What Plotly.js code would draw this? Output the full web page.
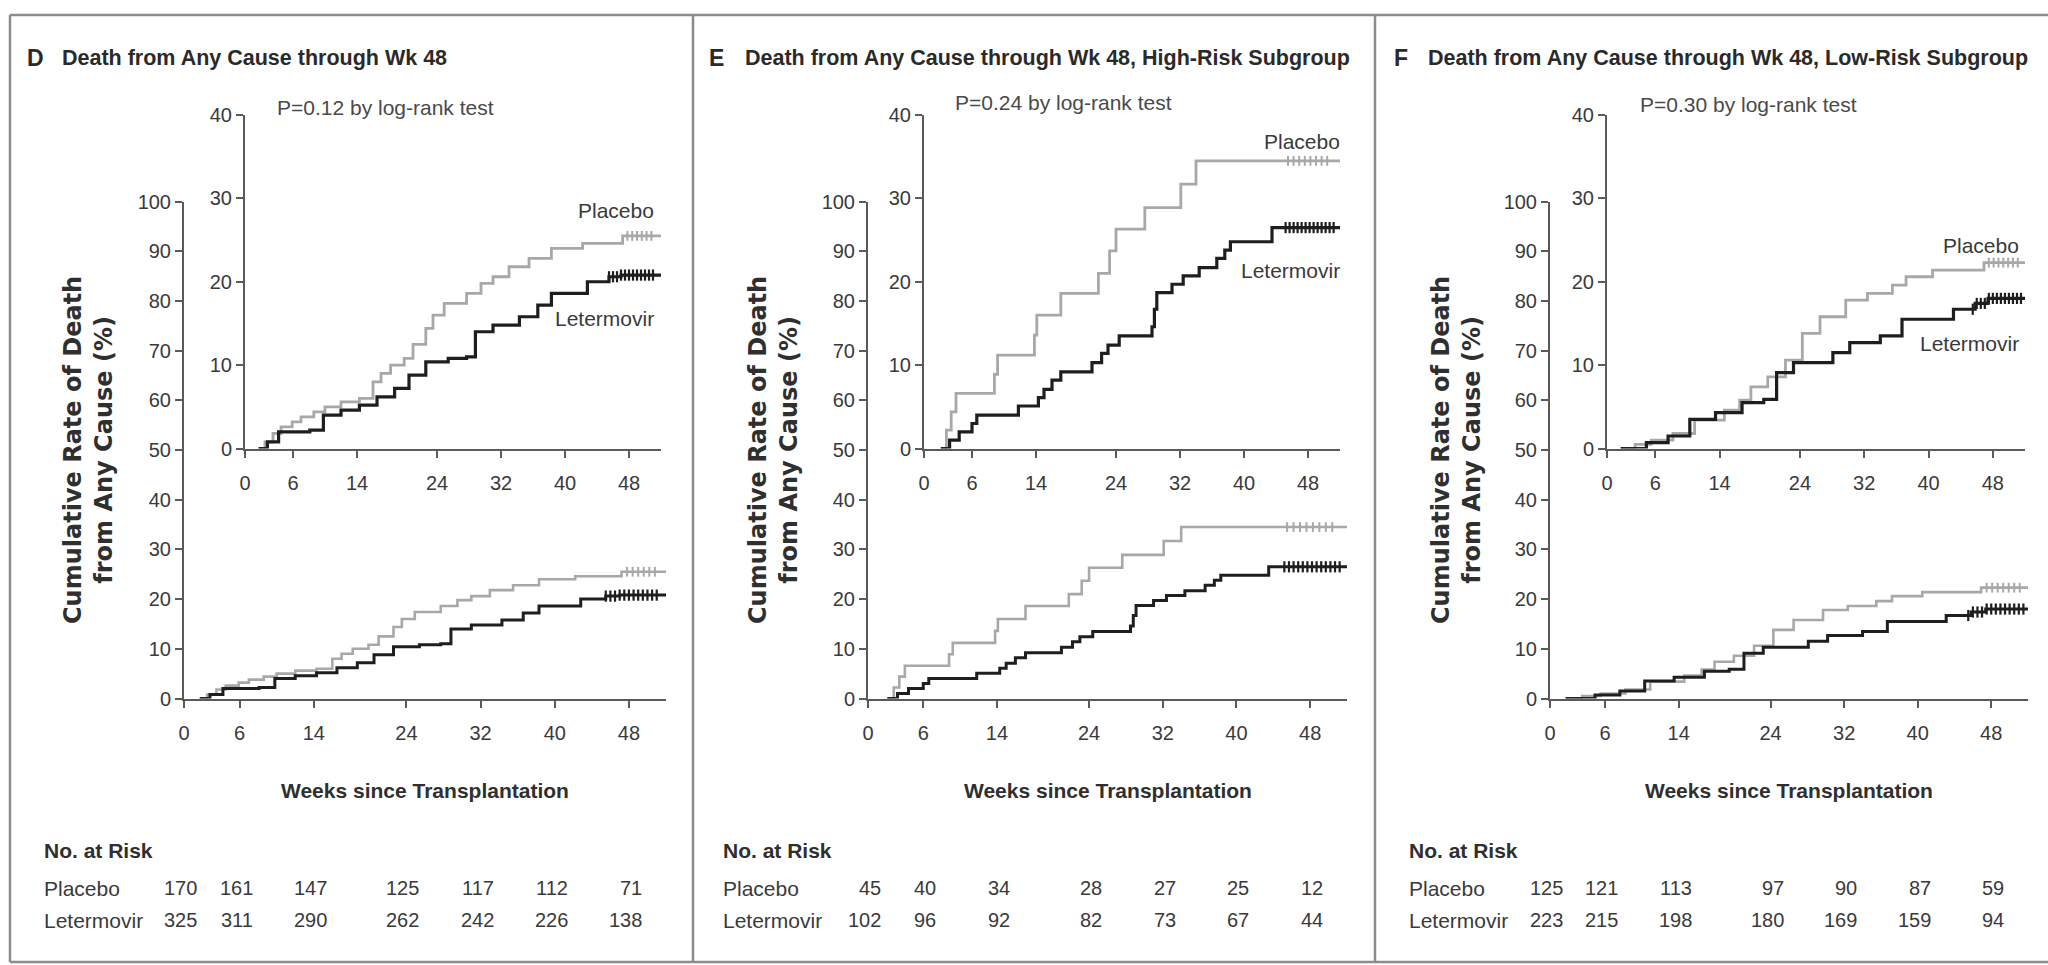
<!DOCTYPE html>
<html><head><meta charset="utf-8">
<script src="https://cdn.plot.ly/plotly-3.0.1.min.js"></script>
<style>html,body{margin:0;padding:0;background:#fff}</style>
</head><body><div id="chart" style="width:2048px;height:965px"></div>
<script>
// ---------- DATA ----------
const weekTicks = [0, 6, 14, 24, 32, 40, 48];
const mainYTicks = [0, 10, 20, 30, 40, 50, 60, 70, 80, 90, 100];
const insetYTicks = [0, 10, 20, 30, 40];

// Panel D: all patients
const dPlaceboWeeks = [1.7, 2.5, 3.5, 4.5, 5.9, 7, 8.6, 10, 12, 14.3, 16, 17, 18.2, 19.9, 21, 22.6, 23.5, 24.9, 27.7, 29.5, 31, 33, 35.5, 38.3, 42.2, 47.2, 52];
const dPlaceboRate  = [0, 0.8, 1.8, 2.6, 3.2, 3.8, 4.4, 5.0, 5.6, 6.0, 8.0, 9.0, 10.0, 10.8, 12.5, 14.4, 16.0, 17.4, 18.6, 19.8, 20.6, 21.8, 22.8, 24.0, 24.6, 25.5, 25.5];
const dLetermovirWeeks = [1.7, 2.8, 4.2, 8.1, 9.8, 12, 14.3, 16.5, 18.7, 20.5, 22.6, 25.4, 27.7, 28.8, 31, 34.3, 36.6, 38.3, 42.8, 45.5, 47, 52];
const dLetermovirRate  = [0, 0.8, 2.0, 2.2, 4.0, 4.6, 5.2, 6.2, 7.2, 8.8, 10.4, 10.8, 11.0, 14.0, 14.8, 15.8, 17.2, 18.6, 20.0, 20.6, 20.8, 20.8];
const dPlaceboCensor = [47.8, 48.4, 49, 49.6, 50.2, 50.8];
const dLetermovirCensor = [45.5, 46, 46.5, 47, 47.5, 48, 48.5, 49, 49.5, 50, 50.5, 51];

// Panel E: high-risk subgroup
const ePlaceboWeeks = [2.1, 2.8, 3.4, 4.0, 8.8, 9.2, 13.8, 14.1, 17.1, 21.8, 23.2, 24.0, 27.6, 32.1, 34.0, 52];
const ePlaceboRate  = [0, 2.2, 4.4, 6.6, 8.9, 11.2, 13.6, 16.0, 18.6, 21.0, 23.7, 26.3, 28.9, 31.7, 34.5, 34.5];
const eLetermovirWeeks = [2.1, 3.2, 4.4, 6.0, 6.6, 11.8, 14.3, 15.0, 16.0, 17.1, 21.0, 22.2, 23.0, 24.4, 28.5, 28.8, 29.1, 31.0, 32.4, 34.4, 36.6, 37.6, 38.3, 43.5, 52];
const eLetermovirRate  = [0, 1.0, 2.0, 3.0, 4.0, 5.1, 6.1, 7.1, 8.2, 9.2, 10.3, 11.4, 12.4, 13.5, 14.6, 16.7, 18.7, 19.7, 20.7, 21.7, 22.8, 23.8, 24.8, 26.5, 26.5];
const ePlaceboCensor = [45.5, 46.2, 46.9, 47.6, 48.3, 49, 49.7, 50.4];
const eLetermovirCensor = [45.2, 45.7, 46.2, 46.7, 47.2, 47.7, 48.2, 48.7, 49.2, 49.7, 50.2, 50.7, 51.2];

// Panel F: low-risk subgroup
const fPlaceboWeeks = [1.7, 3.5, 5.5, 8.2, 10.9, 14.6, 16.5, 17.9, 20, 22.2, 24.3, 26.5, 29.7, 32.4, 35.5, 37.2, 40.5, 46.9, 52];
const fPlaceboRate  = [0, 0.5, 1.0, 1.8, 3.4, 4.6, 5.8, 7.4, 8.6, 10.6, 13.8, 15.8, 17.8, 18.6, 19.6, 20.6, 21.4, 22.3, 22.3];
const fLetermovirWeeks = [1.7, 4.9, 7.6, 10.3, 13.5, 16.8, 19.5, 21.1, 23.2, 28.1, 30.2, 34, 36.7, 43.1, 45.8, 47.4, 52];
const fLetermovirRate  = [0, 0.7, 1.5, 3.5, 4.3, 5.5, 5.9, 9.1, 10.3, 11.5, 12.7, 13.5, 15.5, 16.7, 17.4, 18.0, 18.0];
const fPlaceboCensor = [47.5, 48.1, 48.7, 49.3, 49.9, 50.5, 51.1];
const fLetermovirCensor = [45.5, 46, 46.5, 47, 47.5, 48, 48.5, 49, 49.5, 50, 50.5, 51, 51.5];

// Numbers at risk
const dRiskPlacebo = [170, 161, 147, 125, 117, 112, 71];
const dRiskLetermovir = [325, 311, 290, 262, 242, 226, 138];
const eRiskPlacebo = [45, 40, 34, 28, 27, 25, 12];
const eRiskLetermovir = [102, 96, 92, 82, 73, 67, 44];
const fRiskPlacebo = [125, 121, 113, 97, 90, 87, 59];
const fRiskLetermovir = [223, 215, 198, 180, 169, 159, 94];

// ---------- LAYOUT / STYLE ----------
const W = 2048, H = 965;
const X = p => p / W, Y = p => 1 - p / H;
const SANS = '"Liberation Sans", Arial, sans-serif';
const PLACEBO_C = '#a8a8a8', LETER_C = '#1e1e1e', AX_C = '#5a5a5a', TXT_C = '#3a3a3a';

const panels = [
  { letter: 'D', title: 'Death from Any Cause through Wk 48', p: 'P=0.12 by log-rank test',
    pw: dPlaceboWeeks, pr: dPlaceboRate, lw: dLetermovirWeeks, lr: dLetermovirRate,
    pc: dPlaceboCensor, lc: dLetermovirCensor, riskP: dRiskPlacebo, riskL: dRiskLetermovir,
    main: [184, 666], inset: [245, 661], letterX: 25, titleX: 60, pX: 275, pY: 107,
    labX: 656, plabY: 210, llabY: 318, ytX: 88, tableX: 42 },
  { letter: 'E', title: 'Death from Any Cause through Wk 48, High-Risk Subgroup', p: 'P=0.24 by log-rank test',
    pw: ePlaceboWeeks, pr: ePlaceboRate, lw: eLetermovirWeeks, lr: eLetermovirRate,
    pc: ePlaceboCensor, lc: eLetermovirCensor, riskP: eRiskPlacebo, riskL: eRiskLetermovir,
    main: [868, 1347], inset: [924, 1340], letterX: 707, titleX: 743, pX: 953, pY: 103,
    labX: 1342, plabY: 142, llabY: 270, ytX: 773, tableX: 721 },
  { letter: 'F', title: 'Death from Any Cause through Wk 48, Low-Risk Subgroup', p: 'P=0.30 by log-rank test',
    pw: fPlaceboWeeks, pr: fPlaceboRate, lw: fLetermovirWeeks, lr: fLetermovirRate,
    pc: fPlaceboCensor, lc: fLetermovirCensor, riskP: fRiskPlacebo, riskL: fRiskLetermovir,
    main: [1550, 2028], inset: [1607, 2025], letterX: 1392, titleX: 1426, pX: 1638, pY: 105,
    labX: 2021, plabY: 245, llabY: 343, ytX: 1456, tableX: 1407 }
];

function stepAt(ws, rs, w) {
  let v = rs[0];
  for (let i = 0; i < ws.length; i++) { if (ws[i] <= w) v = rs[i]; }
  return v;
}

const axisCommon = {
  showline: true, linecolor: AX_C, linewidth: 2, ticks: 'outside', ticklen: 7, tickwidth: 2,
  tickcolor: AX_C, showgrid: false, zeroline: false, fixedrange: true,
  tickfont: { family: SANS, size: 20, color: TXT_C }
};

const traces = [];
const layout = {
  width: W, height: H, margin: { l: 0, r: 0, t: 0, b: 0 },
  paper_bgcolor: '#fff', plot_bgcolor: 'rgba(0,0,0,0)', showlegend: false,
  annotations: [], shapes: []
};

panels.forEach((pn, i) => {
  const mi = 2 * i + 1, ii = 2 * i + 2;
  const mx = 'x' + (mi === 1 ? '' : mi), my = 'y' + (mi === 1 ? '' : mi);
  const ix = 'x' + ii, iy = 'y' + ii;
  const mxk = 'xaxis' + (mi === 1 ? '' : mi), myk = 'yaxis' + (mi === 1 ? '' : mi);
  layout[mxk] = Object.assign({}, axisCommon, { domain: [X(pn.main[0]), X(pn.main[1])], range: [0, 52],
    anchor: my, tickvals: weekTicks, ticklabelstandoff: 8 });
  layout[myk] = Object.assign({}, axisCommon, { domain: [Y(698.5), Y(201.5)], range: [0, 100],
    anchor: mx, tickvals: mainYTicks });
  layout['xaxis' + ii] = Object.assign({}, axisCommon, { domain: [X(pn.inset[0]), X(pn.inset[1])], range: [0, 52],
    anchor: iy, tickvals: weekTicks, ticklabelstandoff: 8 });
  layout['yaxis' + ii] = Object.assign({}, axisCommon, { domain: [Y(448.5), Y(115)], range: [0, 40],
    anchor: ix, tickvals: insetYTicks });

  [[mx, my, 2.6, 3.0], [ix, iy, 2.8, 3.2]].forEach(([xa, ya, wp, wl]) => {
    traces.push({ x: pn.pw, y: pn.pr, mode: 'lines', line: { shape: 'hv', color: PLACEBO_C, width: wp },
      xaxis: xa, yaxis: ya, hoverinfo: 'skip' });
    traces.push({ x: pn.lw, y: pn.lr, mode: 'lines', line: { shape: 'hv', color: LETER_C, width: wl },
      xaxis: xa, yaxis: ya, hoverinfo: 'skip' });
    traces.push({ x: pn.pc, y: pn.pc.map(w => stepAt(pn.pw, pn.pr, w)), mode: 'markers',
      marker: { symbol: 'line-ns', size: 7, line: { color: PLACEBO_C, width: 2 } },
      xaxis: xa, yaxis: ya, hoverinfo: 'skip', cliponaxis: false });
    traces.push({ x: pn.lc, y: pn.lc.map(w => stepAt(pn.lw, pn.lr, w)), mode: 'markers',
      marker: { symbol: 'line-ns', size: 8, line: { color: LETER_C, width: 2.2 } },
      xaxis: xa, yaxis: ya, hoverinfo: 'skip', cliponaxis: false });
  });

  const A = layout.annotations;
  const txt = (text, x, y, opts) => A.push(Object.assign({ text, x: X(x), y: Y(y), xref: 'paper', yref: 'paper',
    showarrow: false, xanchor: 'left', yanchor: 'middle', font: { family: SANS, size: 21, color: TXT_C } }, opts || {}));

  txt('<b>' + pn.letter + '</b>', pn.letterX, 58, { font: { family: SANS, size: 23, color: '#2a2a2a' } });
  txt('<b>' + pn.title + '</b>', pn.titleX, 58, { font: { family: SANS, size: 21.5, color: '#2a2a2a' } });
  txt(pn.p, pn.pX, pn.pY, { font: { family: SANS, size: 21, color: '#4a4a4a' } });
  txt('Placebo', pn.labX, pn.plabY, { xanchor: 'right' });
  txt('Letermovir', pn.labX, pn.llabY, { xanchor: 'right' });
  txt('<b>Weeks since Transplantation</b>', (pn.main[0] + pn.main[1]) / 2, 790,
    { xanchor: 'center', font: { family: SANS, size: 21, color: '#2f2f2f' } });
  txt('<b>Cumulative Rate of Death<br>from Any Cause (%)</b>', pn.ytX, 450,
    { xanchor: 'center', textangle: -90, font: { family: '"DejaVu Sans", sans-serif', size: 24, color: '#2f2f2f' } });
  txt('<b>No. at Risk</b>', pn.tableX, 850, { font: { family: SANS, size: 21, color: '#2f2f2f' } });
  txt('Placebo', pn.tableX, 888, { font: { family: SANS, size: 21, color: TXT_C } });
  txt('Letermovir', pn.tableX, 920, { font: { family: SANS, size: 21, color: TXT_C } });
  weekTicks.forEach((w, k) => {
    [[pn.riskP[k], 888], [pn.riskL[k], 920]].forEach(([n, yy]) => {
      A.push({ text: String(n), x: w, xref: mx, y: Y(yy), yref: 'paper', xanchor: 'right', yanchor: 'middle',
        xshift: 15, showarrow: false, font: { family: SANS, size: 20, color: TXT_C } });
    });
  });
});

// frame lines
const frame = (x0, y0, x1, y1) => layout.shapes.push({ type: 'line', xref: 'paper', yref: 'paper',
  x0: X(x0), y0: Y(y0), x1: X(x1), y1: Y(y1), line: { color: '#8c8c8c', width: 2.5 } });
frame(10, 15, 2048, 15);
frame(10, 15, 10, 962);
frame(10, 962, 2048, 962);
frame(693, 15, 693, 962);
frame(1375, 15, 1375, 962);

Plotly.newPlot('chart', traces, layout, { displayModeBar: false, staticPlot: true });
</script></body></html>
